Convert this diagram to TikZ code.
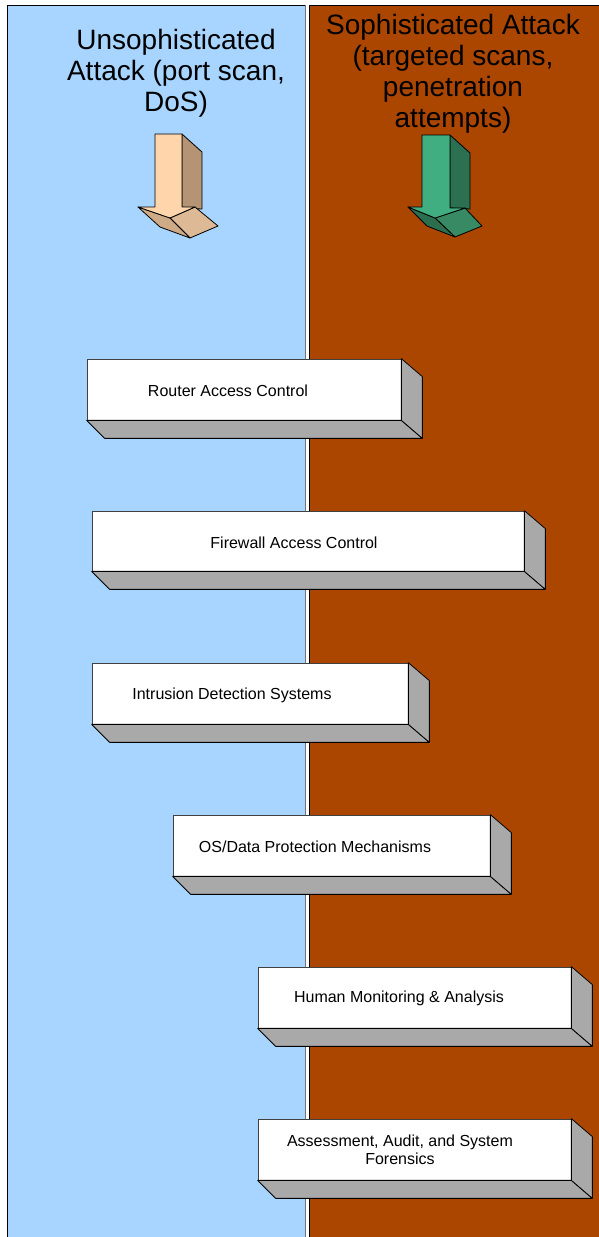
\documentclass[tikz,border=0pt]{standalone}
\usepackage{fontspec}
\setmainfont{Liberation Sans}
\usetikzlibrary{calc}
\definecolor{lblue}{HTML}{A8D5FF}
\definecolor{rbrown}{HTML}{AA4600}
\definecolor{boxgray}{HTML}{A9A9A9}
\definecolor{peach}{HTML}{FFD6AC}
\definecolor{peachside}{HTML}{B59475}
\definecolor{peachbevL}{HTML}{CFAA86}
\definecolor{peachbevR}{HTML}{DDB995}
\definecolor{grn}{HTML}{40AE80}
\definecolor{grnside}{HTML}{2B7050}
\definecolor{grnbevL}{HTML}{2C6F4F}
\definecolor{grnbevR}{HTML}{378A63}
\tikzset{
  front/.style={draw=black!75, fill=white, line width=0.7pt, inner sep=0pt},
  face/.style={draw=black, fill=boxgray, line width=0.8pt, line join=round},
  lbl/.style={font=\fontsize{16}{18}\selectfont, align=center, inner sep=0pt},
  title/.style={font=\fontsize{28}{31}\selectfont, align=center, inner sep=0pt},
  arr/.style={draw=black, line width=0.8pt, line join=round}
}
\newcommand\boxfaces[1]{%
  \draw[face] (#1.south west) -- (#1.south east) -- ($(#1.south east)+(21,18)$) -- ($(#1.south west)+(18,18)$) -- cycle;
  \draw[face] (#1.north east) -- ($(#1.north east)+(21,18)$) -- ($(#1.south east)+(21,18)$) -- (#1.south east) -- cycle;}
\begin{document}
\begin{tikzpicture}[x=1pt,y=-1pt]
\useasboundingbox (0,0) rectangle (599,1237);
% panels
\fill[lblue] (7,5) rectangle (305.5,1240);
\draw[line width=0.9pt] (7,1240) -- (7,5) -- (305.5,5);
\draw[black!55, line width=1pt] (305.5,5) -- (305.5,1240);
\fill[rbrown] (309,5) rectangle (602,1240);
\draw[line width=1pt] (309,1240) -- (309,5) -- (602,5);
% titles
\node[title, anchor=north] (tl) at (176,29) {Unsophisticated\\Attack (port scan,\\DoS)};
\node[title, anchor=north] (tr) at (453,14) {Sophisticated Attack\\(targeted scans,\\penetration\\attempts)};
% left arrow
\draw[arr, fill=peachside] (182,134) -- (202,152) -- (202,209) -- (182,208) -- cycle;
\draw[arr, fill=peachbevR] (195,207) -- (218,226) -- (190,238) -- (170,218) -- cycle;
\draw[arr, fill=peachbevL] (138,207) -- (170,218) -- (190,238) -- (160,227) -- cycle;
\draw[arr, fill=peach] (155,134) -- (182,134) -- (182,207) -- (195,207) -- (170,218) -- (138,207) -- (155,207) -- cycle;
% right arrow
\draw[arr, fill=grnside] (450,135) -- (470,153) -- (470,209) -- (450,208) -- cycle;
\draw[arr, fill=grnbevR] (465,208) -- (482,226) -- (455,237) -- (435,218) -- cycle;
\draw[arr, fill=grnbevL] (408,207) -- (435,218) -- (455,237) -- (427,226) -- cycle;
\draw[arr, fill=grn] (422,135) -- (450,135) -- (450,208) -- (465,208) -- (435,218) -- (408,207) -- (422,207) -- cycle;
% boxes
\node[front, minimum width=314pt, minimum height=61pt] (b1) at (244,389.5) {};
\boxfaces{b1}
\node[lbl] (t1) at (228,391) {Router Access Control};
\node[front, minimum width=432pt, minimum height=60pt] (b2) at (308,541) {};
\boxfaces{b2}
\node[lbl] (t2) at (294,543) {Firewall Access Control};
\node[front, minimum width=316pt, minimum height=61pt] (b3) at (250,693.5) {};
\boxfaces{b3}
\node[lbl] (t3) at (232,695) {Intrusion Detection Systems};
\node[front, minimum width=317pt, minimum height=61pt] (b4) at (331.5,845.5) {};
\boxfaces{b4}
\node[lbl] (t4) at (315,847) {OS/Data Protection Mechanisms};
\node[front, minimum width=313pt, minimum height=61pt] (b5) at (414.5,997.5) {};
\boxfaces{b5}
\node[lbl] (t5) at (399,998) {Human Monitoring \& Analysis};
\node[front, minimum width=313pt, minimum height=61pt] (b6) at (414.5,1149.5) {};
\boxfaces{b6}
\node[lbl] (t6) at (400,1150) {Assessment, Audit, and System\\Forensics};
\end{tikzpicture}
\end{document}
